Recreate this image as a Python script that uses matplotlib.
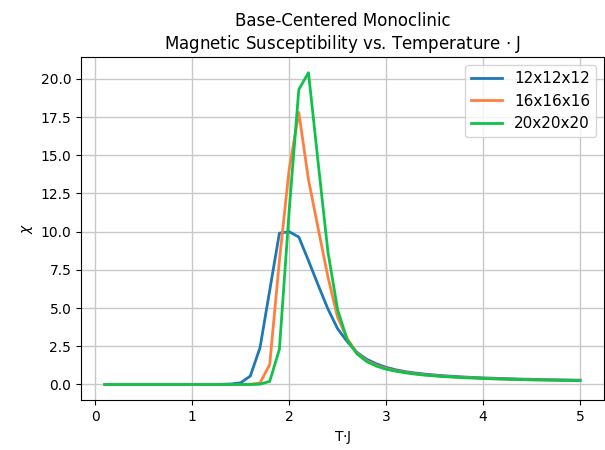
import numpy as np
import matplotlib
matplotlib.use("Agg")
import matplotlib.pyplot as plt

# temperature grid (T*J)
T = [0.1, 0.2, 0.3, 0.4, 0.5, 0.6, 0.7, 0.8, 0.9, 1.0,
     1.1, 1.2, 1.3, 1.4, 1.5, 1.6, 1.7, 1.8, 1.9, 2.0,
     2.1, 2.2, 2.3, 2.4, 2.5, 2.6, 2.7, 2.8, 2.9, 3.0,
     3.1, 3.2, 3.3, 3.4, 3.5, 3.6, 3.7, 3.8, 3.9, 4.0,
     4.1, 4.2, 4.3, 4.4, 4.5, 4.6, 4.7, 4.8, 4.9, 5.0]

chi_12 = [0.0, 0.0, 0.0, 0.0, 0.0, 0.0, 0.0, 0.0, 0.0, 0.0,
          0.0, 0.0, 0.01, 0.03, 0.11, 0.55, 2.4, 6.15, 9.9, 10.0,
          9.65, 8.1, 6.5, 4.95, 3.65, 2.8, 2.1, 1.65, 1.35, 1.12,
          0.96, 0.84, 0.75, 0.68, 0.62, 0.57, 0.53, 0.49, 0.46, 0.43,
          0.41, 0.39, 0.37, 0.35, 0.34, 0.32, 0.31, 0.30, 0.29, 0.28]

chi_16 = [0.0, 0.0, 0.0, 0.0, 0.0, 0.0, 0.0, 0.0, 0.0, 0.0,
          0.0, 0.0, 0.0, 0.0, 0.0, 0.01, 0.1, 1.3, 8.1, 14.05,
          17.8, 13.4, 10.2, 7.05, 4.4, 3.0, 2.05, 1.55, 1.25, 1.04,
          0.90, 0.79, 0.70, 0.63, 0.58, 0.53, 0.49, 0.46, 0.43, 0.40,
          0.38, 0.36, 0.34, 0.33, 0.31, 0.30, 0.29, 0.28, 0.27, 0.26]

chi_20 = [0.0, 0.0, 0.0, 0.0, 0.0, 0.0, 0.0, 0.0, 0.0, 0.0,
          0.0, 0.0, 0.0, 0.0, 0.0, 0.0, 0.02, 0.2, 2.3, 11.3,
          19.3, 20.4, 14.5, 8.7, 4.9, 2.9, 2.0, 1.5, 1.2, 1.0,
          0.87, 0.76, 0.68, 0.61, 0.56, 0.51, 0.48, 0.44, 0.42, 0.39,
          0.37, 0.35, 0.33, 0.32, 0.30, 0.29, 0.28, 0.27, 0.26, 0.25]

labels = ['12x12x12', '16x16x16', '20x20x20']
colors = ['#1f77b4', '#ff7f40', '#0fc24a']

fig = plt.figure(figsize=(6.05, 4.5), dpi=100)
ax = fig.add_axes([0.134, 0.111, 0.864, 0.762])

for y, lab, c in zip([chi_12, chi_16, chi_20], labels, colors):
    ax.plot(T, y, color=c, lw=2, label=lab)

ax.set_yticks(np.arange(0, 20.1, 2.5))
ax.grid(True, color='#c8c8c8', lw=1)
ax.set_xlabel('T$\\cdot$J')
ax.set_ylabel('$\\chi$')
ax.set_title('Base-Centered Monoclinic\nMagnetic Susceptibility vs. Temperature $\\cdot$ J')
ax.legend(loc='upper right', fontsize=11)

fig.savefig('out.png', dpi=100)
